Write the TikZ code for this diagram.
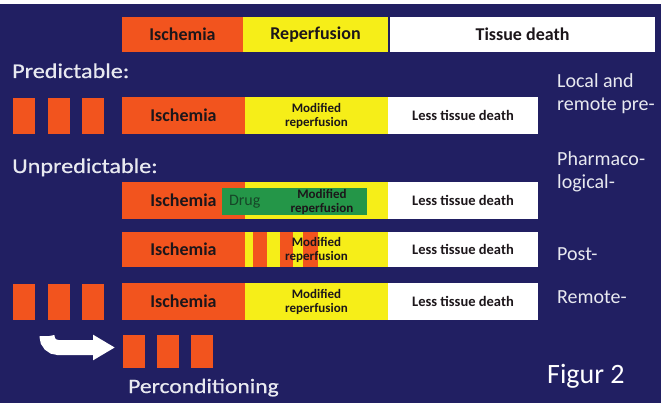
\documentclass[tikz,border=0pt]{standalone}
\usepackage{fontspec}
\setmainfont{Carlito}
\newfontfamily\widefont[FakeStretch=1.15,FakeBold=0.6]{Carlito}
\usetikzlibrary{arrows.meta,positioning}
\definecolor{navy}{RGB}{33,31,98}
\definecolor{ischred}{RGB}{242,84,30}
\definecolor{reperyel}{RGB}{246,238,24}
\definecolor{druggreen}{RGB}{36,150,72}
\definecolor{drugink}{RGB}{22,70,40}
\definecolor{ink}{RGB}{28,22,26}
\definecolor{pale}{RGB}{232,233,240}
\tikzset{
  seg/.style={anchor=north west, inner sep=0pt, outer sep=0pt, text=ink, align=center,
    font=\bfseries\fontsize{18}{19}\selectfont},
  ischbar/.style={seg, fill=ischred},
  repbar/.style={seg, fill=reperyel},
  deathbar/.style={seg, fill=white, font=\bfseries\fontsize{14.5}{15}\selectfont},
  small/.style={text=ink, align=center, inner sep=0pt, font=\bfseries\fontsize{13}{14}\selectfont},
  pulse/.style={anchor=north west, fill=ischred, inner sep=0pt, outer sep=0pt, minimum width=22pt},
  stripe/.style={anchor=north west, fill=ischred, inner sep=0pt, outer sep=0pt, minimum height=35pt},
  side/.style={anchor=base west, text=pale, align=left, inner sep=0pt, font=\fontsize{20}{23}\selectfont},
  head/.style={side, font=\widefont\fontsize{21}{23}\selectfont},
  turn/.style={draw=white, line width=15pt, rounded corners=11pt, shorten >=8pt,
    -{Triangle[length=22pt,width=24pt]}},
}

\begin{document}
\begin{tikzpicture}[x=1pt, y=-1pt]
  % Ischemia / reperfusion bars; the conditioning variants below the header.
  \useasboundingbox (0,0) rectangle (661,403);
  \fill[navy] (0,4) rectangle (661,403);
  \fill[white] (0,0) rectangle (661,4);

  \node[ischbar, minimum width=121pt, minimum height=35pt] (h-isch) at (122,17) {Ischemia};
  \node[repbar, minimum width=145pt, minimum height=35pt, right=0pt of h-isch] (h-rep) {Reperfusion};
  \node[deathbar, font=\bfseries\fontsize{18}{19}\selectfont, minimum width=265pt, minimum height=35pt,
    right=2pt of h-rep] (h-death) {Tissue death};

  \node[head] (predict) at (12,78) {Predictable:};

  \node[pulse, minimum height=36pt] (pre-a) at (13,98) {};
  \node[pulse, minimum height=36pt] (pre-b) at (48,98) {};
  \node[pulse, minimum height=36pt] (pre-c) at (82,98) {};
  \node[ischbar, minimum width=123pt, minimum height=37pt] (pre-isch) at (122,97) {Ischemia};
  \node[repbar, minimum width=143pt, minimum height=37pt, right=0pt of pre-isch] (pre-rep) {};
  \node[small] at (pre-rep) {Modified\\reperfusion};
  \node[deathbar, minimum width=150pt, minimum height=37pt, right=0pt of pre-rep] (pre-death) {Less tissue death};
  \node[side] (pre-lbl) at (557,111) {Local and\\remote pre-};

  \node[head] (unpredict) at (12,173) {Unpredictable:};

  \node[ischbar, minimum width=123pt, minimum height=37pt] (ph-isch) at (122,182) {Ischemia};
  \node[repbar, minimum width=143pt, minimum height=37pt, right=0pt of ph-isch] (ph-rep) {};
  \node[fill=druggreen, inner sep=0pt, minimum width=145pt, minimum height=27pt] (drug) at (294.5,201.5) {};
  \node[anchor=west, text=drugink, inner sep=0pt, font=\fontsize{16}{17}\selectfont] at ([xshift=7pt]drug.west) {Drug};
  \node[small] at (322,201.5) {Modified\\reperfusion};
  \node[deathbar, minimum width=150pt, minimum height=37pt, right=0pt of ph-rep] (ph-death) {Less tissue death};
  \node[side] (ph-lbl) at (557,189) {Pharmaco-\\logical-};

  \node[ischbar, minimum width=123pt, minimum height=35pt] (post-isch) at (122,232) {Ischemia};
  \node[repbar, minimum width=143pt, minimum height=35pt, right=0pt of post-isch] (post-rep) {};
  \node[stripe, minimum width=14pt] (post-a) at (253,232) {};
  \node[stripe, minimum width=13pt] (post-b) at (280,232) {};
  \node[stripe, minimum width=15pt] (post-c) at (303,232) {};
  \node[small] at (post-rep) {Modified\\reperfusion};
  \node[deathbar, minimum width=150pt, minimum height=35pt, right=0pt of post-rep] (post-death) {Less tissue death};
  \node[side] (post-lbl) at (557,261) {Post-};

  \node[pulse, minimum height=36pt] (rem-a) at (13,284) {};
  \node[pulse, minimum height=36pt] (rem-b) at (48,284) {};
  \node[pulse, minimum height=36pt] (rem-c) at (82,284) {};
  \node[ischbar, minimum width=123pt, minimum height=37pt] (rem-isch) at (122,283) {Ischemia};
  \node[repbar, minimum width=143pt, minimum height=37pt, right=0pt of rem-isch] (rem-rep) {};
  \node[small] at (rem-rep) {Modified\\reperfusion};
  \node[deathbar, minimum width=150pt, minimum height=37pt, right=0pt of rem-rep] (rem-death) {Less tissue death};
  \node[side] (rem-lbl) at (557,304) {Remote-};

  \node[pulse, minimum height=33pt] (per-a) at (123,335) {};
  \node[pulse, minimum height=33pt] (per-b) at (157,335) {};
  \node[pulse, minimum height=33pt] (per-c) at (191,335) {};
  \coordinate (bend) at (47,336);
  \draw[turn] (bend) |- ([yshift=4pt]per-a.west);
  \node[head, font=\widefont\fontsize{20.5}{23}\selectfont] (percond) at (128,393) {Perconditioning};

  \node[side, text=white, font=\fontsize{28}{30}\selectfont] (fig) at (547,383) {Figur 2};
\end{tikzpicture}
\end{document}
